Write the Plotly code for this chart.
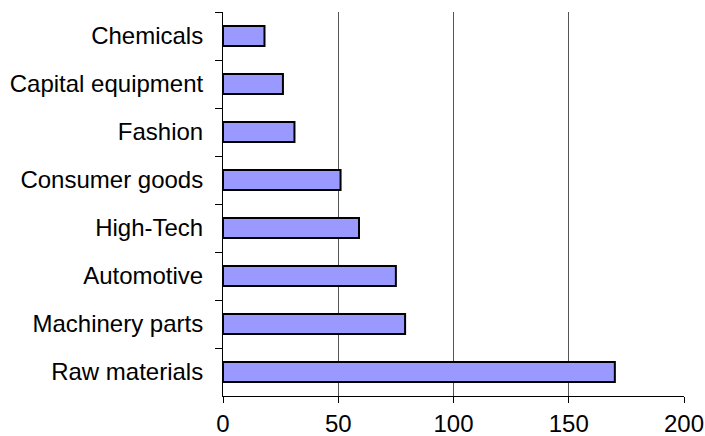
import plotly.graph_objects as go

categories = ["Chemicals", "Capital equipment", "Fashion", "Consumer goods",
              "High-Tech", "Automotive", "Machinery parts", "Raw materials"]
values = [18, 26, 31, 51, 59, 75, 79, 170]
x_ticks = [0, 50, 100, 150, 200]

fig = go.Figure(go.Bar(
    x=values, y=categories, orientation="h",
    marker=dict(color="#9999FF", line=dict(color="black", width=2)),
    width=0.42,
))

fig.update_layout(
    width=705, height=436,
    margin=dict(l=223, r=21, t=12, b=40),
    paper_bgcolor="white", plot_bgcolor="white",
    font=dict(family="Liberation Sans, Arial, sans-serif", size=24, color="black"),
    showlegend=False,
    xaxis=dict(range=[0, 200], tickvals=x_ticks, ticktext=[str(v) for v in x_ticks],
               showgrid=True, gridcolor="#555555", gridwidth=1,
               showline=True, linecolor="black", linewidth=1,
               ticks="outside", ticklen=6, tickcolor="black",
               zeroline=False, fixedrange=True, automargin=False),
    yaxis=dict(autorange="reversed", type="category",
               showgrid=False, showline=True, linecolor="black", linewidth=1,
               ticks="outside", ticklen=7, tickcolor="black", tickson="boundaries",
               ticklabelstandoff=14, fixedrange=True, automargin=False),
)

fig.write_html("out.html")
